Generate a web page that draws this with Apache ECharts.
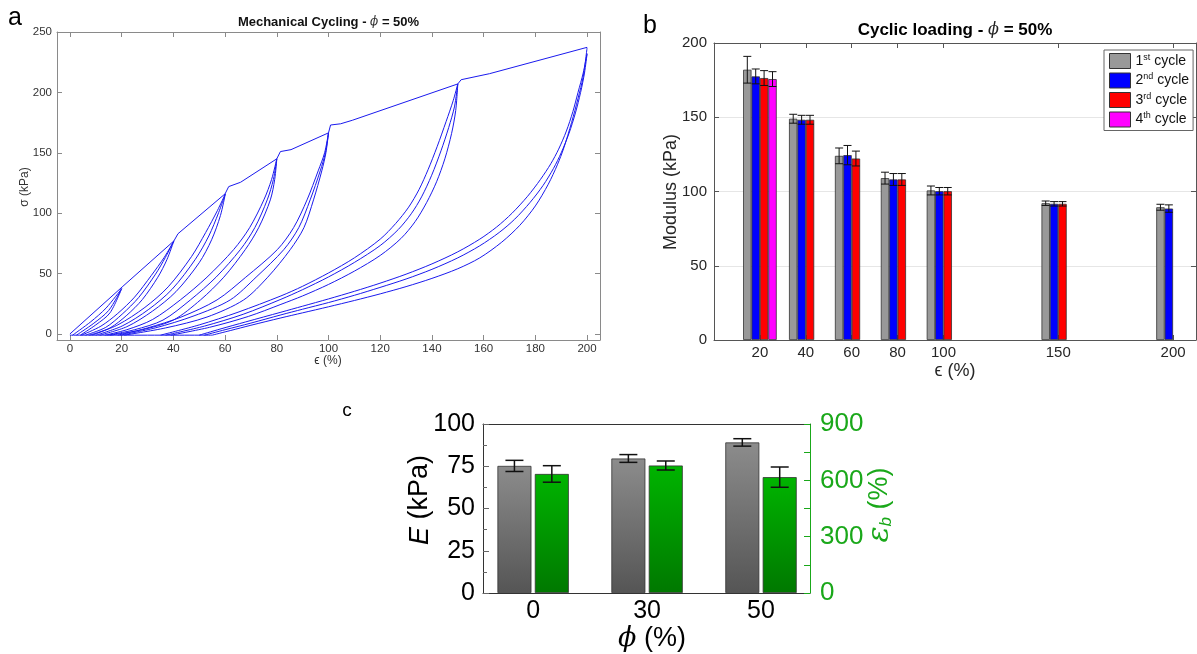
<!DOCTYPE html>
<html><head><meta charset="utf-8">
<script src="https://cdn.jsdelivr.net/npm/echarts@6/dist/echarts.min.js"></script>
<style>html,body{margin:0;padding:0;background:#fff}#c{width:1197px;height:654px}</style>
</head><body><div id="c"></div>
<script>
// ---------- Panel a : stress-strain cycling (x = strain %, y = stress kPa) ----------
const envelope = [[0,0],[20.5,39.5],[40.2,77],[41.8,83],[60,116],[61.4,122],[66,125.6],[80,145],[81.4,151],[85.5,152.6],[100,166.5],[100.8,173],[104.7,174],[109.2,176.9],[150,207],[151.3,210.5],[162.3,215.5],[200,237.3]];
const baseline = [[0,-1],[55,-1]];
const loop20a = [[1,-1],[8,10],[14,21.5],[20,37.5]];
const loop20b = [[2.5,-1],[9,8.5],[15,19.5],[20,37.5]];
const loop20c = [[4,-1],[10,7.5],[15.5,17.5],[20,37.5]];
const loop40a = [[4.5,-1],[12,6.5],[18.5,17],[25,30.5],[31.5,48.5],[36.5,63.5],[40.2,77]];
const loop40b = [[6,-1],[13.8,5.4],[20.2,16.4],[26.6,30.2],[33.1,49.5],[36.9,63.3],[40.2,77]];
const loop40c = [[7.5,-1],[15.5,5],[22,15.5],[28,28.5],[34,47],[37.5,61.5],[40.2,77]];
const loop60a = [[8.5,-1],[18.5,7.5],[29,22],[38,39],[47,64],[52.5,84],[57,102],[60.1,116]];
const loop60b = [[10,-1],[20.2,6.6],[30.5,20.4],[39.5,37],[48.5,61.8],[53.7,81.1],[57.5,100.4],[60.1,116]];
const loop60c = [[11.5,-1],[22,6],[32,19],[41,35],[50,59],[54.8,78],[58.2,98],[60.1,116]];
const loop80a = [[13.5,-1],[22,3.5],[32,12],[42.7,28.2],[53,47],[63.3,69.8],[69.5,88],[75,111],[78,128],[80,145]];
const loop80b = [[14.5,-1],[25,3.5],[36,11.5],[46.6,28.2],[56.5,47],[65.9,69.8],[71.5,88],[76.3,111],[78.7,128],[80,145]];
const loop80c = [[15.5,-1],[28,3.5],[40,11.5],[50.5,28.2],[59.5,47],[67.8,69.8],[73,88],[77.5,111],[79.2,128],[80,145]];
const loop100a = [[18.5,-1],[30,5],[43,14],[56.9,28.2],[68,47],[80.2,69.8],[86.5,88],[91.7,111],[96,135],[98.5,150],[100,166.5]];
const loop100b = [[19.5,-1],[33,5],[48,15],[62,28.2],[72,47],[82.7,69.8],[88.5,88],[92.9,111],[96.8,135],[98.8,150],[100,166.5]];
const loop100c = [[21,-1],[37,5],[53,14],[67.2,28.2],[76.5,47],[85.2,69.8],[90.5,88],[94.2,111],[97.4,135],[99,150],[100,166.5]];
const loop150a = [[35,-1],[50,7.5],[65,18],[81.6,31.5],[90,39.5],[100,50.5],[110,63],[120,78.5],[126,91.5],[131,105],[135,119.5],[138.5,136],[142,155],[145.5,176],[148.2,193],[150,207]];
const loop150b = [[37,-1],[52,6.5],[67,16.3],[81.6,28.7],[90,36.7],[100,47.2],[110,59.2],[120,73.2],[127,86.5],[132,99.5],[136,113.5],[139.9,131.4],[143.5,151.6],[146.5,171],[148.7,188],[150,207]];
const loop150c = [[39,-1],[54,5.5],[69,14.5],[81.6,24.5],[90,31.5],[100,41],[110,52],[120,65],[128,79],[133.5,93],[138,109],[141.8,126],[145,145],[147.6,166],[149.2,185],[150,207]];
const loop200a = [[50,-1],[58,4],[68,10],[81.6,18],[90,23],[100,29],[110,35.3],[119.9,42],[130,49.5],[140,58],[150,68],[158.5,78.5],[165,88.5],[171,100],[177,114],[182,128],[186,141],[189,153],[192,168],[194.5,184],[196.5,200],[198.5,216],[200,232]];
const loop200b = [[52,-1],[60,3.5],[70,9],[81.6,15.8],[90,20.5],[100,26],[110,32],[119.9,38.5],[130,45.5],[140,53.5],[150,63],[158.5,73],[166,84],[172,95],[178,109],[183,123],[187,137],[190,150],[193,166],[195.5,183],[197.5,200],[199,216],[200,232]];
const loop200c = [[55,-1],[62,2.8],[70,7.2],[81.6,13.3],[90,17.5],[100,22.5],[110,27.7],[120,33.2],[130,39.2],[140,46],[150,54],[158.5,63],[167,76],[174,90],[180,106],[185,124],[188.5,140],[191,154],[194,175],[196.5,195],[198.5,213],[200,237]];

// ---------- Panel b : modulus per cycle ----------
const strainLevels = [20, 40, 60, 80, 100, 150, 200];
const cycleNames = ['1st cycle', '2nd cycle', '3rd cycle', '4th cycle'];
const cycle1 = [182, 149, 124, 109, 100.7, 92.1, 89.4];
const cycle1Err = [9, 3, 5.3, 4, 3, 1.5, 2];
const cycle2 = [177.5, 148.3, 124.5, 108.1, 100.2, 91.7, 88.5];
const cycle2Err = [5, 3, 6.5, 4, 2.5, 1.5, 2.5];
const cycle3 = [176.4, 148.3, 122.2, 108.1, 100.2, 91.7, null];
const cycle3Err = [5, 3, 5, 4, 2.5, 1.5, null];
const cycle4 = [175.7, null, null, null, null, null, null];
const cycle4Err = [5, null, null, null, null, null, null];

// ---------- Panel c : E and strain at break ----------
const phiCats = ['0', '30', '50'];
const modulusE = [75.2, 79.6, 89.1];
const modulusEErr = [3.3, 2.3, 2.2];
const breakStrain = [634, 679, 617];
const breakStrainErr = [44, 24, 54];

const FONT = "'Liberation Sans', Arial, sans-serif";
const chart = echarts.init(document.getElementById('c'), null, {renderer: 'canvas'});

function pairs(xs, ys) { const out = []; xs.forEach((x, i) => { if (ys[i] != null) out.push([x, ys[i]]); }); return out; }
function triples(xs, ys, es) { const out = []; xs.forEach((x, i) => { if (ys[i] != null) out.push([x, ys[i], es[i]]); }); return out; }

function errRender(offset, capHalf, lw) {
  return function (params, api) {
    const x = api.value(0), y = api.value(1), e = api.value(2);
    const p0 = api.coord([x, y + e]), p1 = api.coord([x, y - e]);
    const cx = p0[0] + offset;
    const st = {stroke: '#111', lineWidth: lw};
    return {type: 'group', children: [
      {type: 'line', shape: {x1: cx, y1: p0[1], x2: cx, y2: p1[1]}, style: st},
      {type: 'line', shape: {x1: cx - capHalf, y1: p0[1], x2: cx + capHalf, y2: p0[1]}, style: st},
      {type: 'line', shape: {x1: cx - capHalf, y1: p1[1], x2: cx + capHalf, y2: p1[1]}, style: st}
    ]};
  };
}

const series = [];
// panel a lines
const loopsA = [baseline, loop20a, loop20b, loop20c, loop40a, loop40b, loop40c, loop60a, loop60b, loop60c,
  loop80a, loop80b, loop80c, loop100a, loop100b, loop100c, loop150a, loop150b, loop150c, loop200a, loop200b, loop200c];
loopsA.forEach(d => series.push({type: 'line', xAxisIndex: 0, yAxisIndex: 0, data: d, showSymbol: false,
  smooth: 0.3, lineStyle: {color: '#1a1aee', width: 1}, silent: true}));
series.push({type: 'line', xAxisIndex: 0, yAxisIndex: 0, data: envelope, showSymbol: false,
  lineStyle: {color: '#1a1aee', width: 1}, silent: true});

// panel b bars
const cycVals = [cycle1, cycle2, cycle3, cycle4];
const cycErrs = [cycle1Err, cycle2Err, cycle3Err, cycle4Err];
const cycColors = ['#999999', '#0000ff', '#ff0000', '#ff00ff'];
const offs = [-12.6, -4.2, 4.2, 12.6];
cycVals.forEach((v, i) => series.push({type: 'bar', name: cycleNames[i], xAxisIndex: 2, yAxisIndex: 2,
  data: pairs(strainLevels, v), barWidth: 8.4, barGap: '0%',
  itemStyle: {color: cycColors[i], borderColor: '#333', borderWidth: 0.8}}));
cycVals.forEach((v, i) => series.push({type: 'custom', xAxisIndex: 2, yAxisIndex: 2, z: 5,
  data: triples(strainLevels, v, cycErrs[i]), renderItem: errRender(offs[i], 4, 1), silent: true}));

// panel c bars
const catIdx = phiCats.map((c, i) => i);
series.push({type: 'bar', xAxisIndex: 4, yAxisIndex: 4, data: pairs(catIdx, modulusE), barWidth: 34, barGap: '10%',
  itemStyle: {color: {type: 'linear', x: 0, y: 0, x2: 0, y2: 1, colorStops: [{offset: 0, color: '#8c8c8c'}, {offset: 1, color: '#555555'}]},
    borderColor: '#333', borderWidth: 0.8}});
series.push({type: 'bar', xAxisIndex: 4, yAxisIndex: 5, data: pairs(catIdx, breakStrain), barWidth: 34, barGap: '10%',
  itemStyle: {color: {type: 'linear', x: 0, y: 0, x2: 0, y2: 1, colorStops: [{offset: 0, color: '#00b400'}, {offset: 1, color: '#007800'}]},
    borderColor: '#333', borderWidth: 0.8}});
series.push({type: 'custom', xAxisIndex: 4, yAxisIndex: 4, z: 5, data: triples(catIdx, modulusE, modulusEErr), renderItem: errRender(-18.7, 9, 1.5), silent: true});
series.push({type: 'custom', xAxisIndex: 4, yAxisIndex: 5, z: 5, data: triples(catIdx, breakStrain, breakStrainErr), renderItem: errRender(18.7, 9, 1.5), silent: true});

const range = (a, b, s) => { const r = []; for (let v = a; v <= b + 1e-9; v += s) r.push(v); return r; };
const aX = range(0, 200, 20), aY = range(0, 250, 50);

function axBase(color) {
  return {axisLine: {show: true, onZero: false, lineStyle: {color: color, width: 1}}, splitLine: {show: false}};
}

const GREEN = '#1aa81a';
const xAxis = [
  Object.assign(axBase('#8a8a8a'), {gridIndex: 0, type: 'value', min: -5, max: 205, position: 'bottom',
    axisTick: {inside: true, length: 5, customValues: aX, lineStyle: {color: '#8a8a8a'}},
    axisLabel: {customValues: aX, fontSize: 11.5, color: '#333', margin: 3, fontFamily: FONT}}),
  Object.assign(axBase('#8a8a8a'), {gridIndex: 0, type: 'value', min: -5, max: 205, position: 'top',
    axisTick: {inside: true, length: 5, customValues: aX, lineStyle: {color: '#8a8a8a'}}, axisLabel: {show: false}}),
  Object.assign(axBase('#555'), {gridIndex: 1, type: 'value', min: 0, max: 210, position: 'bottom',
    axisTick: {inside: true, length: 5, customValues: strainLevels, lineStyle: {color: '#555'}},
    axisLabel: {customValues: strainLevels, fontSize: 15, color: '#262626', margin: 5, fontFamily: FONT}}),
  Object.assign(axBase('#555'), {gridIndex: 1, type: 'value', min: 0, max: 210, position: 'top',
    axisTick: {inside: true, length: 5, customValues: strainLevels, lineStyle: {color: '#555'}}, axisLabel: {show: false}}),
  Object.assign(axBase('#333'), {gridIndex: 2, type: 'value', min: -0.44, max: 2.43, position: 'bottom',
    axisTick: {show: false},
    axisLabel: {customValues: catIdx, formatter: v => phiCats[Math.round(v)], fontSize: 25, color: '#000', margin: 6, fontFamily: FONT}}),
  Object.assign(axBase('#333'), {gridIndex: 2, type: 'value', min: -0.44, max: 2.43, position: 'top',
    axisTick: {show: false}, axisLabel: {show: false}})
];
const yAxis = [
  Object.assign(axBase('#8a8a8a'), {gridIndex: 0, type: 'value', min: -5, max: 250, position: 'left',
    axisTick: {inside: true, length: 5, customValues: aY, lineStyle: {color: '#8a8a8a'}},
    axisLabel: {customValues: aY, fontSize: 11.5, color: '#333', margin: 5, fontFamily: FONT}}),
  Object.assign(axBase('#8a8a8a'), {gridIndex: 0, type: 'value', min: -5, max: 250, position: 'right',
    axisTick: {inside: true, length: 5, customValues: aY, lineStyle: {color: '#8a8a8a'}}, axisLabel: {show: false}}),
  Object.assign(axBase('#555'), {gridIndex: 1, type: 'value', min: 0, max: 200, interval: 50, position: 'left',
    splitLine: {show: true, lineStyle: {color: '#e6e6e6', width: 1}},
    axisTick: {inside: true, length: 5, lineStyle: {color: '#555'}},
    axisLabel: {fontSize: 15, color: '#262626', margin: 7, fontFamily: FONT}}),
  Object.assign(axBase('#555'), {gridIndex: 1, type: 'value', min: 0, max: 200, interval: 50, position: 'right',
    axisTick: {inside: true, length: 5, lineStyle: {color: '#555'}}, axisLabel: {show: false}}),
  Object.assign(axBase('#333'), {gridIndex: 2, type: 'value', min: 0, max: 100, interval: 25, position: 'left',
    axisTick: {inside: true, length: 6, lineStyle: {color: '#666'}},
    minorTick: {show: true, splitNumber: 2, length: 4, lineStyle: {color: '#666'}},
    axisLabel: {fontSize: 25, color: '#000', margin: 8, fontFamily: FONT}}),
  Object.assign(axBase(GREEN), {gridIndex: 2, type: 'value', min: 0, max: 900, interval: 300, position: 'right',
    axisTick: {inside: true, length: 6, lineStyle: {color: GREEN}},
    minorTick: {show: true, splitNumber: 2, length: 6, lineStyle: {color: GREEN}},
    axisLabel: {fontSize: 26, color: GREEN, margin: 10, fontFamily: FONT}})
];

function txt(x, y, text, font, opts) {
  return Object.assign({type: 'text', x: x, y: y, z: 100,
    style: Object.assign({text: text, font: font, fill: '#000', textAlign: 'center', textVerticalAlign: 'middle'}, (opts && opts.style) || {})},
    (opts && opts.el) || {});
}

const graphic = [
  txt(15, 18, 'a', '25px ' + FONT),
  txt(650, 26, 'b', '25px ' + FONT),
  txt(347, 411, 'c', '19px ' + FONT),
  {type: 'text', x: 328.5, y: 22, z: 100, style: {text: '{b|Mechanical Cycling - }{p|ϕ}{b| = 50%}', textAlign: 'center', textVerticalAlign: 'middle',
    rich: {b: {fontFamily: FONT, fontSize: 13, fontWeight: 'bold', fill: '#111'}, p: {fontFamily: 'DejaVu Serif', fontSize: 12, fontStyle: 'italic', fill: '#333'}}}},
  {type: 'text', x: 955, y: 30, z: 100, style: {text: '{b|Cyclic loading - }{p|ϕ}{b| = 50%}', textAlign: 'center', textVerticalAlign: 'middle',
    rich: {b: {fontFamily: FONT, fontSize: 17, fontWeight: 'bold', fill: '#000'}, p: {fontFamily: 'DejaVu Serif', fontSize: 16, fontStyle: 'italic', fill: '#222'}}}},
  txt(328, 361, 'ϵ (%)', '12px ' + FONT, {style: {fill: '#333'}}),
  txt(25, 187, 'σ (kPa)', '12px ' + FONT, {style: {fill: '#333'}, el: {rotation: Math.PI / 2}}),
  txt(955, 371, 'ϵ (%)', '18px ' + FONT, {style: {fill: '#262626'}}),
  txt(671, 192, 'Modulus (kPa)', '18px ' + FONT, {style: {fill: '#262626'}, el: {rotation: Math.PI / 2}}),
  {type: 'text', x: 652, y: 639, z: 100, style: {text: '{i|ϕ}{n| (%)}', textAlign: 'center', textVerticalAlign: 'middle',
    rich: {i: {fontFamily: 'DejaVu Serif', fontSize: 27, fontStyle: 'italic', fill: '#000'}, n: {fontFamily: FONT, fontSize: 27, fill: '#000'}}}},
  {type: 'text', x: 420, y: 500, z: 100, rotation: Math.PI / 2, style: {text: '{i|E}{n| (kPa)}', textAlign: 'center', textVerticalAlign: 'middle',
    rich: {i: {fontFamily: FONT, fontSize: 27, fontStyle: 'italic', fill: '#000'}, n: {fontFamily: FONT, fontSize: 27, fill: '#000'}}}},
  {type: 'text', x: 880, y: 505, z: 100, rotation: Math.PI / 2, style: {text: '{i|ε}{s|b}{n| (%)}', textAlign: 'center', textVerticalAlign: 'middle',
    rich: {i: {fontFamily: 'DejaVu Serif', fontSize: 30, fontStyle: 'italic', fill: GREEN, verticalAlign: 'top'},
      s: {fontFamily: FONT, fontSize: 17, fontStyle: 'italic', fill: GREEN, verticalAlign: 'bottom'},
      n: {fontFamily: FONT, fontSize: 27, fill: GREEN}}}}
];

chart.setOption({
  animation: false,
  backgroundColor: '#ffffff',
  grid: [
    {left: 57, top: 32, width: 543, height: 308},
    {left: 714, top: 43, width: 482, height: 297},
    {left: 483, top: 424, width: 327, height: 169}
  ],
  legend: {data: cycleNames, orient: 'vertical', left: 1104, top: 50, itemWidth: 21, itemHeight: 15, itemGap: 3.5,
    padding: [3, 4, 3, 5], borderColor: '#666', borderWidth: 1, backgroundColor: '#fff', selectedMode: false, icon: 'rect',
    itemStyle: {borderColor: '#333', borderWidth: 1},
    formatter: function (name) { const m = name.match(/^(\d)(\w+) (.*)$/); return '{n|' + m[1] + '}{s|' + m[2] + '}{n| ' + m[3] + '}'; },
    textStyle: {fontFamily: FONT, fontSize: 14, color: '#111', rich: {n: {fontFamily: FONT, fontSize: 14, color: '#111', lineHeight: 16},
      s: {fontFamily: FONT, fontSize: 9, color: '#111', verticalAlign: 'top', lineHeight: 10}}}},
  xAxis: xAxis,
  yAxis: yAxis,
  series: series,
  graphic: graphic
});
</script></body></html>
